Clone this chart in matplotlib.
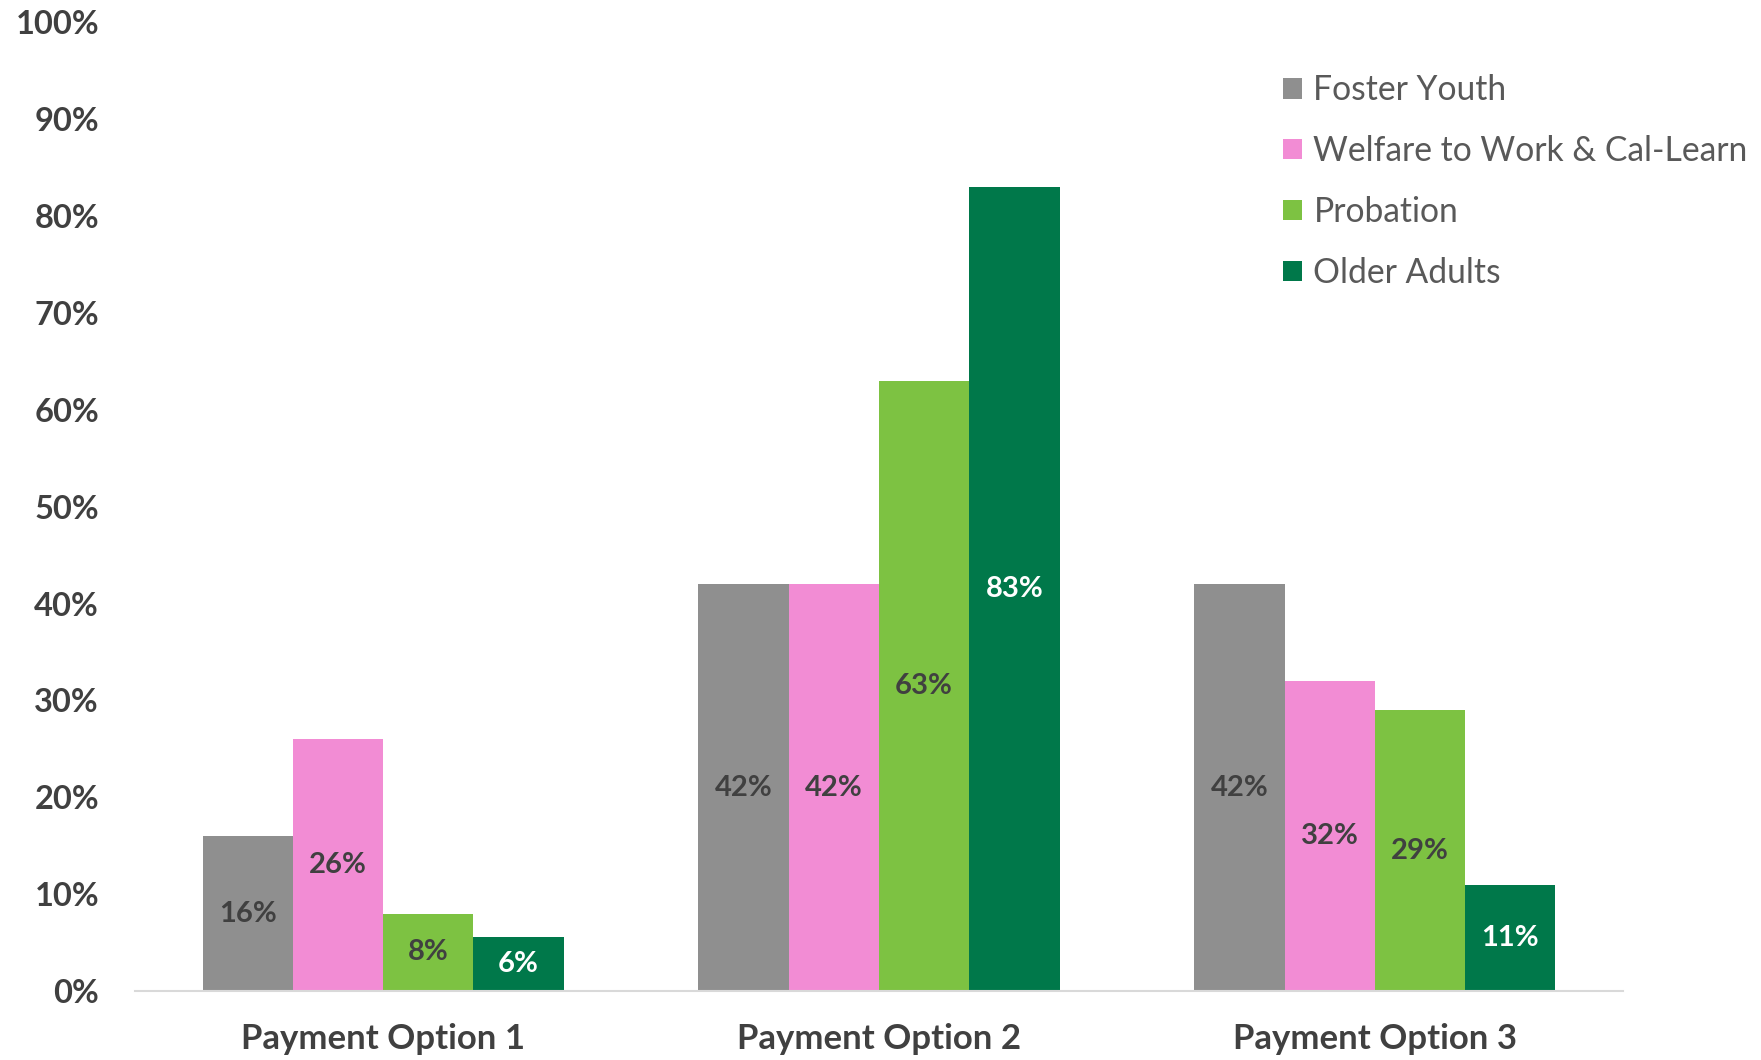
import matplotlib
matplotlib.use("Agg")
import matplotlib.pyplot as plt
import numpy as np
from matplotlib.patches import Patch

categories = ["Payment Option 1", "Payment Option 2", "Payment Option 3"]
series_names = ["Foster Youth", "Welfare to Work & Cal-Learn", "Probation", "Older Adults"]
foster_youth = [16, 42, 42]
welfare_to_work = [26, 42, 32]
probation = [8, 63, 29]
older_adults = [5.6, 83, 11]
yticks = [0, 10, 20, 30, 40, 50, 60, 70, 80, 90, 100]

series = [foster_youth, welfare_to_work, probation, older_adults]
colors = ["#8F8F8F", "#F28CD4", "#7DC242", "#00784A"]
label_colors = ["#404040", "#404040", "#404040", "#FFFFFF"]
text_color = "#404040"

plt.rcParams['font.family'] = ['Lato', 'DejaVu Sans']

fig = plt.figure(figsize=(17.61, 10.60), dpi=100)
ax = fig.add_axes([0.0767, 0.065, 0.8449, 0.914])

x = np.arange(len(categories))
bw = 0.182
for i, (vals, c, lc) in enumerate(zip(series, colors, label_colors)):
    pos = x + (i - 1.5) * bw
    bars = ax.bar(pos, vals, width=bw, color=c, edgecolor='none', zorder=2)
    for b, v in zip(bars, vals):
        ax.text(b.get_x() + b.get_width() / 2, v / 2, f"{v:.0f}%",
                ha='center', va='center', color=lc, fontsize=21, fontweight='bold', zorder=3)

ax.set_xlim(-0.5, 2.5)
ax.set_ylim(0, 100)
ax.set_yticks(yticks)
ax.set_yticklabels([f"{t}%" for t in yticks])
ax.set_xticks(x)
ax.set_xticklabels(categories)
for s in ['top', 'right', 'left']:
    ax.spines[s].set_visible(False)
ax.spines['bottom'].set_color('#D9D9D9')
ax.spines['bottom'].set_linewidth(1.5)
ax.tick_params(axis='both', length=0, colors=text_color)
ax.tick_params(axis='y', pad=26, labelsize=23.5)
ax.tick_params(axis='x', pad=23, labelsize=25)
for lab in ax.get_yticklabels() + ax.get_xticklabels():
    lab.set_fontweight('bold')
    lab.set_color(text_color)

handles = [Patch(facecolor=c, edgecolor='none', label=n) for c, n in zip(colors, series_names)]
leg = fig.legend(handles=handles, loc='upper left', bbox_to_anchor=(0.7285, 0.930),
                 frameon=False, fontsize=24.2, handlelength=0.56, handleheight=0.56,
                 handletextpad=0.35, labelspacing=0.86, borderaxespad=0, borderpad=0)
for t in leg.get_texts():
    t.set_color('#595959')

fig.savefig("out.png", dpi=100)
